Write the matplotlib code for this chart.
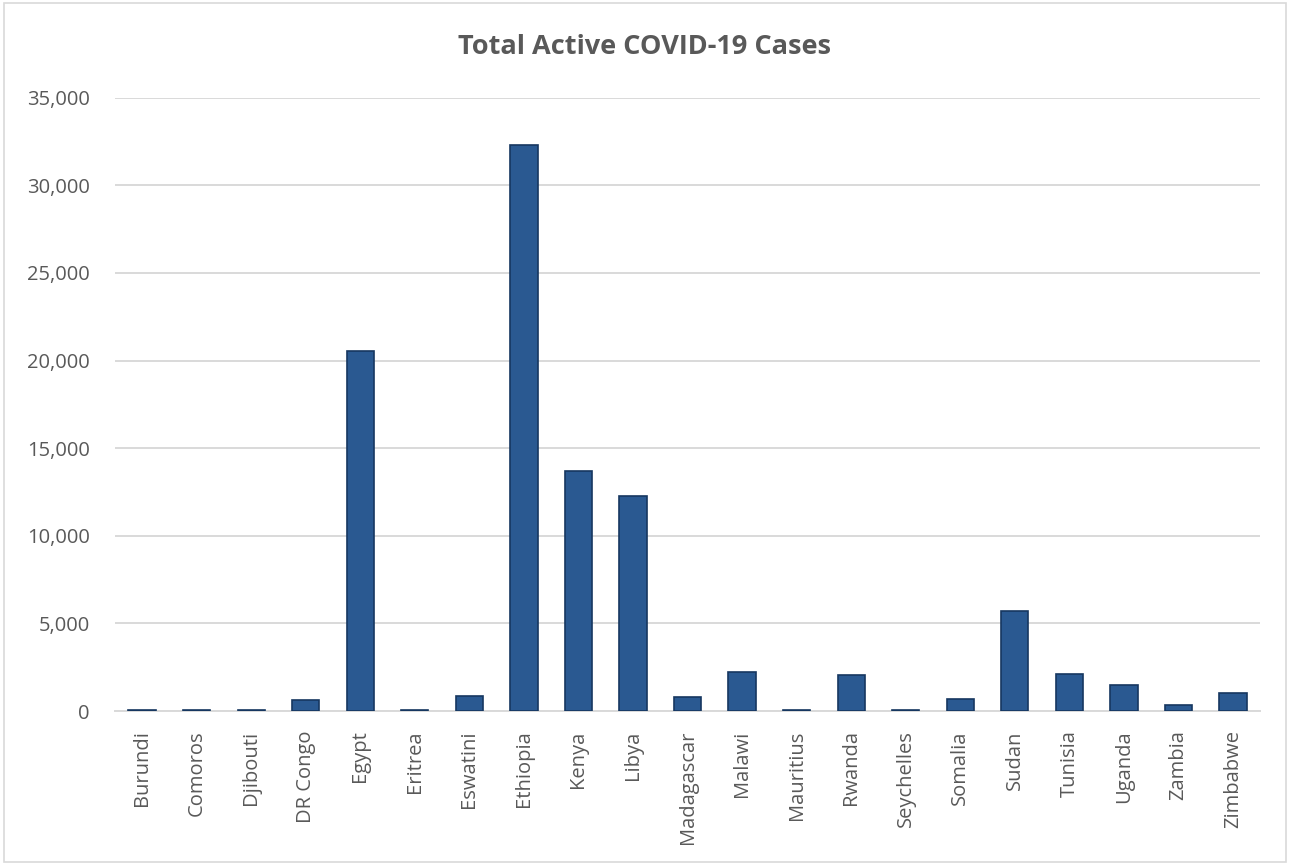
import matplotlib.pyplot as plt
from matplotlib.patches import Rectangle
from matplotlib.ticker import FuncFormatter

countries = ['Burundi', 'Comoros', 'Djibouti', 'DR Congo', 'Egypt', 'Eritrea', 'Eswatini',
             'Ethiopia', 'Kenya', 'Libya', 'Madagascar', 'Malawi', 'Mauritius', 'Rwanda',
             'Seychelles', 'Somalia', 'Sudan', 'Tunisia', 'Uganda', 'Zambia', 'Zimbabwe']
active_cases = [40, 40, 40, 650, 20550, 40, 880, 32300, 13700, 12250, 800, 2210, 50,
                2040, 50, 700, 5720, 2110, 1480, 320, 1010]

plt.rcParams['font.family'] = ['Open Sans', 'DejaVu Sans']
grey = '#595959'

fig = plt.figure(figsize=(12.9, 8.65), dpi=100)
ax = fig.add_axes([0.089, 0.178, 0.888, 0.709])

x = range(len(countries))
ax.bar(x, active_cases, width=0.5, color='#2a5991', edgecolor='#163760', linewidth=1.2, zorder=3)

ax.set_xlim(-0.5, len(countries) - 0.5)
ax.set_ylim(0, 35000)
ax.set_yticks(range(0, 35001, 5000))
ax.yaxis.set_major_formatter(FuncFormatter(lambda v, p: f'{int(v):,}'))
ax.set_xticks(list(x))
ax.set_xticklabels(countries, rotation=90)
ax.tick_params(axis='both', length=0, labelsize=14.5, colors=grey)
ax.tick_params(axis='y', pad=18)
ax.tick_params(axis='x', pad=14)

ax.grid(axis='y', color='#d9d9d9', linewidth=1.4, zorder=0)
for s in ['top', 'right', 'left']:
    ax.spines[s].set_visible(False)
ax.spines['bottom'].set_color('#d9d9d9')
ax.spines['bottom'].set_linewidth(1.4)

fig.text(0.5, 0.946, 'Total Active COVID-19 Cases', ha='center', va='center',
         fontsize=19.5, fontweight='bold', color=grey)

fig.patches.append(Rectangle((0.003, 0.003), 0.994, 0.994, transform=fig.transFigure,
                             fill=False, edgecolor='#d9d9d9', linewidth=1.2))

fig.savefig('out.png', dpi=100)
